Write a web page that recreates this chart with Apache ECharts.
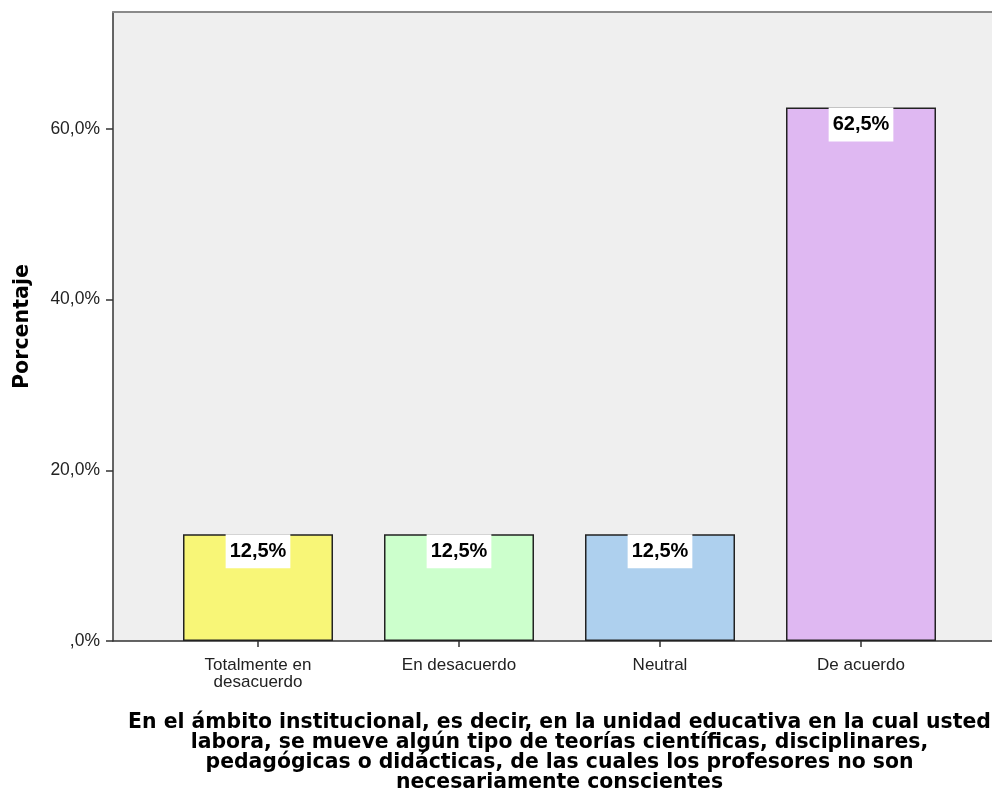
<!DOCTYPE html>
<html>
<head>
<meta charset="utf-8">
<title>Porcentaje</title>
<script src="https://cdn.jsdelivr.net/npm/echarts@6/dist/echarts.min.js"></script>
<style>
  html, body { margin: 0; padding: 0; background: #fff; }
  #chart { width: 992px; height: 801px; }
</style>
</head>
<body>
<div id="chart"></div>
<script>
// datos del gráfico
const categories = ['Totalmente en\ndesacuerdo', 'En desacuerdo', 'Neutral', 'De acuerdo'];
const percentages = [12.5, 12.5, 12.5, 62.5];
const barColors = ['#f8f677', '#ccffcc', '#aed0ee', '#dfb8f2'];
const yTicks = [0, 20, 40, 60];
const yTickLabels = [',0%', '20,0%', '40,0%', '60,0%'];
const yMax = 73.7;

const xTitle = 'En el ámbito institucional, es decir, en la unidad educativa en la cual usted\n' +
  'labora, se mueve algún tipo de teorías científicas, disciplinares,\n' +
  'pedagógicas o didácticas, de las cuales los profesores no son\n' +
  'necesariamente conscientes';

const FONT = "'Liberation Sans', Arial, sans-serif";
const FONT_WIDE = "'DejaVu Sans', Verdana, sans-serif";

function fmtPct(v) {
  return v.toFixed(1).replace('.', ',') + '%';
}

let chart = echarts.init(document.getElementById('chart'), null, { renderer: 'canvas' });

const option = {
  animation: false,
  textStyle: { fontFamily: FONT },
  grid: [
    // fondo del área de trazado
    { left: 113, top: 12, right: -4, bottom: 160, show: true, backgroundColor: '#efefef', borderWidth: 0, outerBoundsMode: 'none' },
    // barras
    { left: 157.5, top: 12, right: 30.5, bottom: 160, outerBoundsMode: 'none' }
  ],
  xAxis: [
    {
      gridIndex: 0, type: 'value', min: 0, max: 1, position: 'bottom',
      axisLine: { show: true, lineStyle: { color: '#333', width: 1.5 } },
      axisTick: { show: false }, axisLabel: { show: false }, splitLine: { show: false }
    },
    {
      gridIndex: 0, type: 'value', min: 0, max: 1, position: 'top',
      axisLine: { show: true, lineStyle: { color: '#8a8a8a', width: 2 } },
      axisTick: { show: false }, axisLabel: { show: false }, splitLine: { show: false }
    },
    {
      gridIndex: 1, type: 'category', data: categories,
      axisLine: { show: false },
      axisTick: { show: true, alignWithLabel: true, length: 6, lineStyle: { color: '#333', width: 1.5 } },
      axisLabel: { color: '#222', fontSize: 17, lineHeight: 17, margin: 16, fontFamily: FONT },
      name: xTitle,
      nameLocation: 'middle',
      nameGap: 72,
      nameTextStyle: { fontSize: 20.4, fontWeight: 'bold', color: '#000', lineHeight: 19.8, align: 'center', fontFamily: FONT_WIDE }
    }
  ],
  yAxis: [
    {
      gridIndex: 0, type: 'value', min: 0, max: yMax, interval: 20,
      axisLine: { show: true, lineStyle: { color: '#333', width: 1.5 } },
      axisTick: { show: true, length: 7, customValues: yTicks, lineStyle: { color: '#333', width: 1.5 } },
      axisLabel: {
        customValues: yTicks,
        color: '#222', fontSize: 17.5, margin: 13, fontFamily: FONT,
        formatter: v => yTickLabels[yTicks.indexOf(v)] || ''
      },
      splitLine: { show: false },
      name: 'Porcentaje',
      nameLocation: 'middle',
      nameGap: 80,
      nameTextStyle: { fontSize: 20.6, fontWeight: 'bold', color: '#000', fontFamily: FONT_WIDE }
    },
    {
      gridIndex: 1, type: 'value', min: 0, max: yMax, show: false, splitLine: { show: false }
    }
  ],
  series: [
    {
      type: 'bar',
      xAxisIndex: 2,
      yAxisIndex: 1,
      barWidth: 150,
      data: percentages.map((v, i) => ({
        value: v,
        itemStyle: { color: barColors[i] }
      })),
      itemStyle: { borderColor: '#222', borderWidth: 1.5 },
      label: {
        show: true,
        position: 'insideTop',
        distance: 0,
        formatter: p => fmtPct(p.value),
        backgroundColor: '#fff',
        padding: [7, 4, 7, 4],
        fontSize: 20,
        fontWeight: 'bold',
        color: '#000',
        fontFamily: FONT
      }
    }
  ]
};

chart.setOption(option);
</script>
</body>
</html>
